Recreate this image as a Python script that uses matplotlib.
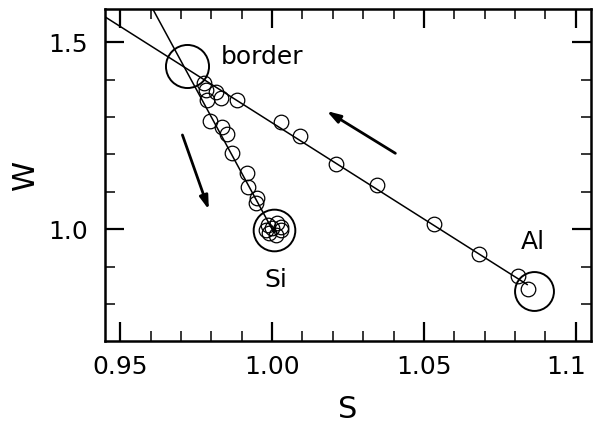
import matplotlib
matplotlib.use("Agg")
import matplotlib.pyplot as plt
import matplotlib.transforms as mtransforms
from matplotlib.ticker import MultipleLocator, FixedLocator

# ---- data ----
al_s = [0.9776, 0.9781, 0.9814, 0.9833, 0.9886, 1.0028, 1.0091, 1.0212, 1.0344,
        1.0532, 1.0680, 1.0811, 1.0844]
al_w = [1.392, 1.372, 1.368, 1.352, 1.346, 1.288, 1.250, 1.175, 1.118,
        1.013, 0.933, 0.875, 0.840]

si_s = [0.9785, 0.9796, 0.9836, 0.9853, 0.9869, 0.9916, 0.9920, 0.9951, 0.9946]
si_w = [1.346, 1.290, 1.274, 1.254, 1.203, 1.150, 1.112, 1.083, 1.071]

cluster_s = [0.9988, 1.0017, 1.0028, 0.9989, 1.0012, 0.9979, 1.0001, 1.0028]
cluster_w = [1.0115, 1.016, 0.998, 0.989, 0.985, 0.998, 1.003, 1.007]

fit_al_s = [0.945, 1.084]
fit_al_w = [1.568, 0.852]
fit_si_s = [0.958, 1.0005]
fit_si_w = [1.630, 0.993]

ref_labels = ["border", "Si", "Al"]
ref_s = [0.9719, 1.0006, 1.0863]
ref_w = [1.437, 0.998, 0.836]
ref_label_s = [0.9831, 1.0012, 1.0860]
ref_label_w = [1.461, 0.864, 0.967]

arrow_tail_s = [1.0406, 0.9705]
arrow_tail_w = [1.203, 1.252]
arrow_head_s = [1.0180, 0.9792]
arrow_head_w = [1.316, 1.052]

x_major = [0.95, 1.00, 1.05, 1.10]
x_labels = ["0.95", "1.00", "1.05", "1.1"]
y_major = [1.0, 1.5]
y_labels = ["1.0", "1.5"]

# ---- figure ----
plt.rcParams['font.family'] = ['DejaVu Sans']
fig = plt.figure(figsize=(5.93, 4.29), dpi=100)
ax = fig.add_axes([0.177, 0.206, 0.8196, 0.774])

ax.plot(fit_al_s, fit_al_w, color='black', lw=1.1)
ax.plot(fit_si_s, fit_si_w, color='black', lw=1.1)

ax.plot(al_s, al_w, 'o', ms=10.5, mfc='none', mec='black', mew=0.9)
ax.plot(si_s, si_w, 'o', ms=10.5, mfc='none', mec='black', mew=0.9)
ax.plot(cluster_s, cluster_w, 'o', ms=10.5, mfc='none', mec='black', mew=0.9)

ref_sizes = [31, 30, 28]
for s, w, ms in zip(ref_s, ref_w, ref_sizes):
    ax.plot([s], [w], 'o', ms=ms, mfc='none', mec='black', mew=1.4)

aligns = ['left', 'center', 'center']
for lab, s, w, ha in zip(ref_labels, ref_label_s, ref_label_w, aligns):
    ax.text(s, w, lab, fontsize=18, ha=ha, va='center')

for ts, tw, hs, hw in zip(arrow_tail_s, arrow_tail_w, arrow_head_s, arrow_head_w):
    ax.annotate("", xy=(hs, hw), xytext=(ts, tw),
                arrowprops=dict(arrowstyle='-|>,head_length=0.8,head_width=0.25',
                                color='black', lw=2, shrinkA=0, shrinkB=0))

ax.set_xlim(0.945, 1.105)
ax.set_ylim(0.702, 1.590)

ax.xaxis.set_major_locator(FixedLocator(x_major))
ax.set_xticklabels(x_labels)
ax.xaxis.set_minor_locator(MultipleLocator(0.01))
ax.yaxis.set_major_locator(FixedLocator(y_major))
ax.set_yticklabels(y_labels)
ax.yaxis.set_minor_locator(MultipleLocator(0.1))

ax.tick_params(which='both', direction='in', top=True, right=True, labelsize=18)
ax.tick_params(which='major', length=14, width=1.6)
ax.tick_params(axis='x', which='major', pad=10)
ax.tick_params(axis='y', which='major', pad=12)
ax.tick_params(which='minor', length=7, width=1.1)
for sp in ax.spines.values():
    sp.set_linewidth(1.8)

# shift the last x tick label slightly left, as in the reference
last = ax.get_xticklabels()[-1]
last.set_transform(last.get_transform() +
                   mtransforms.ScaledTranslation(-10 / 100, 0, fig.dpi_scale_trans))

ax.set_xlabel("S", fontsize=22, labelpad=12)
ax.set_ylabel("W", fontsize=22, labelpad=6)

fig.savefig("out.png", dpi=100)
